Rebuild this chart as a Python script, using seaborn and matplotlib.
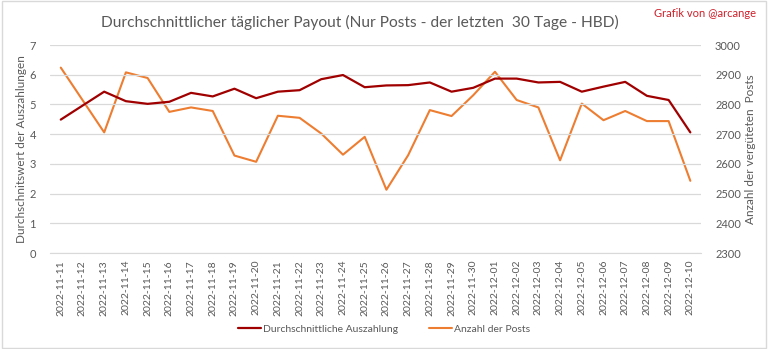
import matplotlib
matplotlib.use("Agg")
import matplotlib.pyplot as plt
import seaborn as sns
import pandas as pd
from matplotlib.patches import Rectangle

dates = ["2022-11-11", "2022-11-12", "2022-11-13", "2022-11-14", "2022-11-15",
         "2022-11-16", "2022-11-17", "2022-11-18", "2022-11-19", "2022-11-20",
         "2022-11-21", "2022-11-22", "2022-11-23", "2022-11-24", "2022-11-25",
         "2022-11-26", "2022-11-27", "2022-11-28", "2022-11-29", "2022-11-30",
         "2022-12-01", "2022-12-02", "2022-12-03", "2022-12-04", "2022-12-05",
         "2022-12-06", "2022-12-07", "2022-12-08", "2022-12-09", "2022-12-10"]
avg_payout = [4.49, 4.96, 5.43, 5.11, 5.02, 5.09, 5.39, 5.27, 5.53, 5.21,
              5.43, 5.48, 5.85, 5.99, 5.58, 5.64, 5.65, 5.74, 5.43, 5.56,
              5.87, 5.87, 5.74, 5.76, 5.43, 5.60, 5.76, 5.29, 5.15, 4.06]
post_count = [2924, 2815, 2706, 2908, 2889, 2775, 2790, 2778, 2628, 2607,
              2762, 2755, 2702, 2631, 2691, 2513, 2629, 2781, 2761, 2831,
              2910, 2815, 2790, 2612, 2803, 2747, 2778, 2744, 2744, 2543]

df = pd.DataFrame({"date": dates, "avg": avg_payout, "posts": post_count})

sns.set_style("white")
plt.rcParams["font.family"] = ["Lato", "DejaVu Sans"]

DARK_RED = "#A00000"
ORANGE = "#ED7D31"
GRAY = "#595959"
GRID = "#D9D9D9"

fig = plt.figure(figsize=(7.68, 3.49), dpi=100)
ax = fig.add_axes([0.065, 0.275, 0.848, 0.596])
ax2 = ax.twinx()

sns.lineplot(data=df, x="date", y="posts", ax=ax2, color=ORANGE, linewidth=1.5,
             label="Anzahl der Posts", legend=False)
sns.lineplot(data=df, x="date", y="avg", ax=ax, color=DARK_RED, linewidth=1.6,
             label="Durchschnittliche Auszahlung", legend=False)
ax.set_zorder(ax2.get_zorder() + 1)
ax.patch.set_visible(False)

ax.set_ylim(0, 7)
ax.set_yticks(range(0, 8))
ax2.set_ylim(2300, 3000)
ax2.set_yticks(range(2300, 3001, 100))
ax.set_xlim(-0.5, len(dates) - 0.5)

ax.yaxis.grid(True, color=GRID, linewidth=0.9)
ax.xaxis.grid(False)
ax2.grid(False)
for a in (ax, ax2):
    for s in a.spines.values():
        s.set_visible(False)
ax.spines["bottom"].set_visible(True)
ax.spines["bottom"].set_color(GRID)

ax.tick_params(axis="x", labelrotation=90, labelsize=7.5, colors=GRAY, length=0, pad=5)
ax.tick_params(axis="y", labelsize=8, colors=GRAY, length=0, pad=10)
ax2.tick_params(axis="y", labelsize=8, colors=GRAY, length=0, pad=10)

ax.set_xlabel("")
ax.set_ylabel("Durchschnitswert der Auszahlungen", fontsize=8.5, color=GRAY, labelpad=2)
ax2.set_ylabel("Anzahl der vergüteten  Posts", fontsize=8.5, color=GRAY, labelpad=3)

fig.text(0.469, 0.937, "Durchschnittlicher täglicher Payout (Nur Posts - der letzten  30 Tage - HBD)",
         ha="center", va="center", fontsize=11.2, color=GRAY)
fig.text(0.985, 0.962, "Grafik von @arcange", ha="right", va="center",
         fontsize=8, color="#D0202A")

h1, l1 = ax.get_legend_handles_labels()
h2, l2 = ax2.get_legend_handles_labels()
fig.legend(h1 + h2, l1 + l2, loc="center", bbox_to_anchor=(0.5, 0.057), ncol=2,
           frameon=False, fontsize=7.5, labelcolor=GRAY, handlelength=2.2,
           handletextpad=0.2, columnspacing=3.0)

fig.patches.append(Rectangle((0.002, 0.003), 0.996, 0.994, transform=fig.transFigure,
                             fill=False, edgecolor="#D9D9D9", linewidth=1))

fig.savefig("out.png", dpi=100)
